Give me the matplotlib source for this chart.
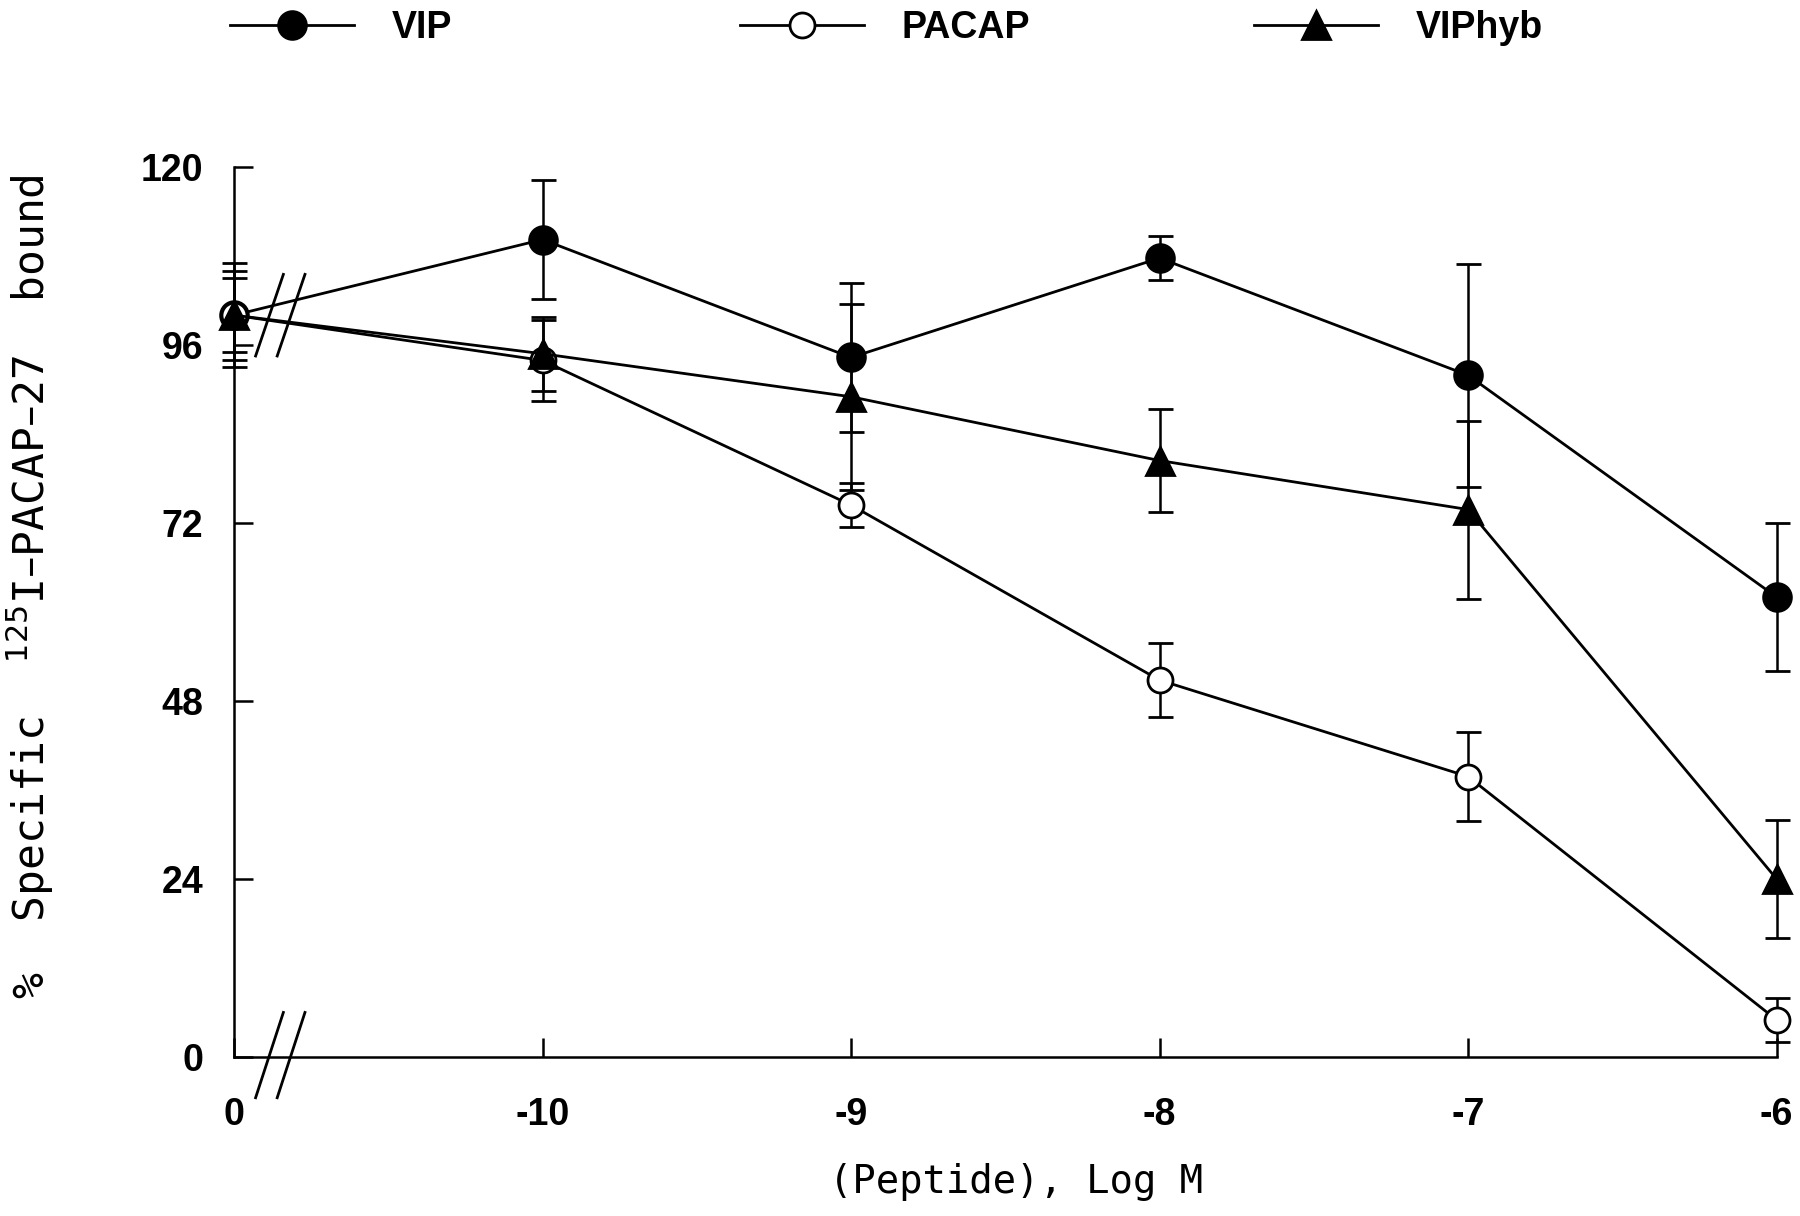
import matplotlib
matplotlib.use("Agg")
import matplotlib.pyplot as plt
import numpy as np

# concentrations (0 = no peptide, then log M)
x_labels = ['0', '-10', '-9', '-8', '-7', '-6']
x_pos = np.arange(len(x_labels))

# % specific binding
vip = [100, 110.2, 94.3, 107.7, 91.9, 62.0]
vip_err = [6, 8, 10, 3, 15, 10]

pacap = [100, 93.9, 74.4, 50.8, 37.8, 5.0]
pacap_err = [7, 5.5, 3, 5, 6, 3]

viphyb = [100, 94.8, 89.0, 80.4, 73.8, 24.0]
viphyb_err = [5, 5, 12.5, 7, 12, 8]

y_ticks = [0, 24, 48, 72, 96, 120]

tick_font = {'family': 'Liberation Sans', 'weight': 'bold', 'size': 27}
label_family = ['DejaVu Sans Mono', 'DejaVu Sans']

fig = plt.figure(figsize=(18, 12.16), dpi=100)
ax = fig.add_axes([0.13, 0.1308, 0.857, 0.732])

handles = []
series = [
    (vip, vip_err, 'o', 'black', 20, 'VIP'),
    (pacap, pacap_err, 'o', 'white', 18, 'PACAP'),
    (viphyb, viphyb_err, '^', 'black', 20, 'VIPhyb'),
]
for vals, err, mk, face, ms, name in series:
    cont = ax.errorbar(x_pos, vals, yerr=err, fmt='-', marker=mk, color='black',
                       ms=ms, mfc=face, mec='black', mew=2, lw=2,
                       elinewidth=1.8, capsize=9, capthick=1.8, label=name)
    for art in cont.get_children():
        art.set_clip_on(False)
    handles.append(cont.lines[0])

ax.set_xlim(0, 5)
ax.set_ylim(0, 120)
ax.set_xticks(x_pos)
ax.set_xticklabels(x_labels, fontdict=tick_font)
ax.set_yticks(y_ticks)
ax.set_yticklabels([str(t) for t in y_ticks], fontdict=tick_font)
ax.tick_params(axis='both', direction='in', length=14, width=1.8)
ax.tick_params(axis='x', pad=29)
ax.tick_params(axis='y', pad=22)

ax.spines['top'].set_visible(False)
ax.spines['right'].set_visible(False)
for s in ['left', 'bottom']:
    ax.spines[s].set_linewidth(1.8)

# axis break marks (x axis and on the curves)
for x0, x1 in [(0.07, 0.16), (0.14, 0.23)]:
    ax.plot([x0, x1], [-5.5, 6], color='black', lw=2, clip_on=False)
    ax.plot([x0, x1], [94.5, 105.5], color='black', lw=2, clip_on=False)

fig.text(0.5644, 0.028, '(Peptide), Log M', fontsize=28, family=label_family,
         ha='center', va='center')
fig.text(0.017, 0.518, '%  Specific  $^{125}$I\u2013PACAP\u201327  bound',
         fontsize=31, family=label_family, rotation=90, ha='center', va='center')

# legend: one entry per block, spread across the top like the original
legend_x = [0.1278, 0.4111, 0.6967]
for h, name, lx in zip(handles, ['VIP', 'PACAP', 'VIPhyb'], legend_x):
    leg = fig.legend([h], [name], loc='upper left', bbox_to_anchor=(lx, 0.9915),
                     frameon=False, borderpad=0, borderaxespad=0,
                     handlelength=3.3, handletextpad=1.0,
                     prop={'family': 'Liberation Sans', 'weight': 'bold', 'size': 27})

fig.savefig('out.png', dpi=100)
